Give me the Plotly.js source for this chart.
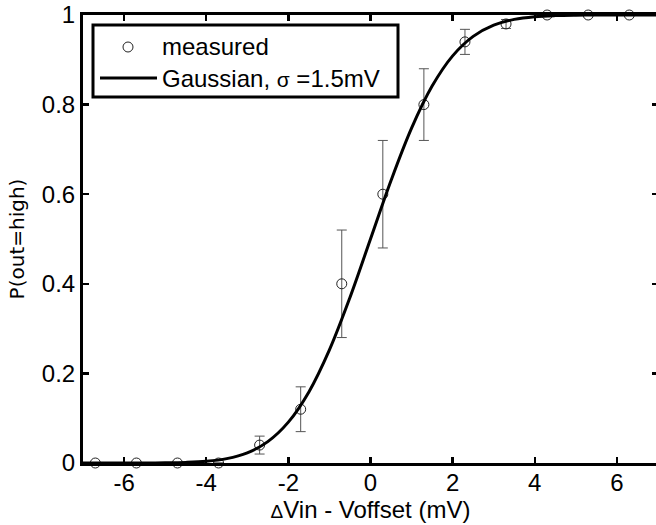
<!DOCTYPE html>
<html>
<head>
<meta charset="utf-8">
<script src="https://cdn.plot.ly/plotly-3.0.1.min.js"></script>
<style>
html, body { margin: 0; padding: 0; overflow: hidden; background: #fff; }
#chart { width: 658px; height: 525px; }
</style>
</head>
<body>
<div id="chart"></div>
<script>
// Measured points (ΔVin - Voffset in mV) and probability of high output
const measuredX = [-6.7, -5.7, -4.7, -3.7, -2.7, -1.7, -0.7, 0.3, 1.3, 2.3, 3.3, 4.3, 5.3, 6.3];
const measuredY = [0, 0, 0, 0, 0.04, 0.12, 0.40, 0.60, 0.80, 0.94, 0.98, 1, 1, 1];
const measuredErr = [0, 0, 0, 0, 0.02, 0.05, 0.12, 0.12, 0.08, 0.028, 0.01, 0, 0, 0];

// Gaussian fit curve (sigma = 1.5 mV)
const fitX = [-7, -6.5, -6, -5.5, -5, -4.5, -4, -3.5, -3, -2.5, -2, -1.5, -1, -0.5, 0,
              0.5, 1, 1.5, 2, 2.5, 3, 3.5, 4, 4.5, 5, 5.5, 6, 6.5, 7];
const fitY = [0, 0, 0.00003, 0.00012, 0.00043, 0.00135, 0.00383, 0.00982, 0.02275, 0.04779,
              0.09121, 0.15866, 0.25249, 0.36944, 0.5, 0.63056, 0.74751, 0.84134, 0.90879,
              0.95221, 0.97725, 0.99018, 0.99617, 0.99865, 0.99957, 0.99988, 0.99997, 0.99999, 1];

const xTickVals = [-6, -4, -2, 0, 2, 4, 6];
const xTickText = ['-6', '-4', '-2', '0', '2', '4', '6'];
const yTickVals = [0, 0.2, 0.4, 0.6, 0.8, 1];
const yTickText = ['0', '0.2', '0.4', '0.6', '0.8', '1'];

const legendNames = ['measured', 'Gaussian, <span style="font-size:21px">σ</span> =1.5mV'];

const W = 658, H = 525;
const M = { l: 83, r: 0, t: 15, b: 62 };
const PW = W - M.l - M.r, PH = H - M.t - M.b;
const px = v => (v - M.l) / PW;          // pixel x -> paper
const py = v => (H - M.b - v) / PH;      // pixel y -> paper

const FONT = '"Liberation Sans", Arial, Helvetica, sans-serif';

const traces = [
  {
    x: measuredX, y: measuredY, type: 'scatter', mode: 'markers', name: 'measured',
    cliponaxis: false,
    marker: { symbol: 'circle-open', size: 10, color: '#222', line: { width: 1, color: '#222' } },
    error_y: { type: 'data', array: measuredErr, visible: true, color: '#555', thickness: 1, width: 5 }
  },
  {
    x: fitX, y: fitY, type: 'scatter', mode: 'lines', name: 'Gaussian',
    cliponaxis: false,
    line: { color: '#000', width: 3, shape: 'spline', smoothing: 1 }
  }
];

const layout = {
  width: W, height: H,
  margin: M,
  paper_bgcolor: '#fff', plot_bgcolor: '#fff',
  showlegend: false,
  font: { family: FONT, size: 24, color: '#000' },
  xaxis: {
    range: [-7, 7], tickvals: xTickVals, ticktext: xTickText,
    showgrid: false, zeroline: false,
    showline: true, linecolor: '#000', linewidth: 3, mirror: 'allticks',
    ticks: 'inside', ticklen: 6, tickwidth: 2.5, tickcolor: '#000',
    ticklabelstandoff: -4,
    tickfont: { family: FONT, size: 24, color: '#000' },
    title: { text: '<span style="font-size:19px">Δ</span>Vin - Voffset (mV)', font: { family: FONT, size: 24, color: '#000' }, standoff: 6 }
  },
  yaxis: {
    range: [0, 1], tickvals: yTickVals, ticktext: yTickText,
    showgrid: false, zeroline: false,
    showline: true, linecolor: '#000', linewidth: 3, mirror: 'allticks',
    ticks: 'inside', ticklen: 6, tickwidth: 2.5, tickcolor: '#000',
    tickfont: { family: FONT, size: 24, color: '#000' },
    title: { text: 'P(out=high)', font: { family: '"DejaVu Sans", sans-serif', size: 20, color: '#000' }, standoff: 12 }
  },
  shapes: [
    { type: 'rect', xref: 'paper', yref: 'paper', x0: px(93), x1: px(398), y0: py(97), y1: py(25),
      line: { color: '#000', width: 3 }, fillcolor: '#fff', layer: 'above' },
    { type: 'circle', xref: 'paper', yref: 'paper', x0: px(123), x1: px(133), y0: py(52), y1: py(42),
      line: { color: '#222', width: 1 }, layer: 'above' },
    { type: 'line', xref: 'paper', yref: 'paper', x0: px(100), x1: px(157), y0: py(78), y1: py(78),
      line: { color: '#000', width: 3 }, layer: 'above' }
  ],
  annotations: [
    { xref: 'paper', yref: 'paper', x: px(160), y: py(47), xanchor: 'left', yanchor: 'middle',
      text: legendNames[0], showarrow: false, font: { family: FONT, size: 24, color: '#000' } },
    { xref: 'paper', yref: 'paper', x: px(160), y: py(78), xanchor: 'left', yanchor: 'middle',
      text: legendNames[1], showarrow: false, font: { family: FONT, size: 24, color: '#000' } }
  ]
};

Plotly.newPlot('chart', traces, layout, { staticPlot: true, displayModeBar: false });
</script>
</body>
</html>
